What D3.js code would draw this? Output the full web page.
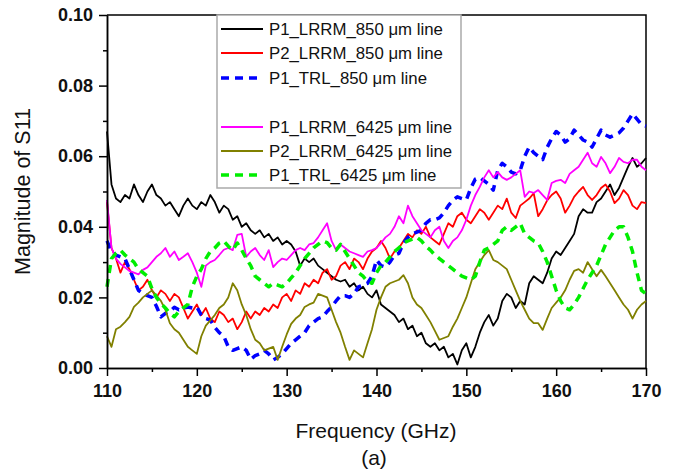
<!DOCTYPE html>
<html>
<head>
<meta charset="utf-8">
<script src="https://cdn.jsdelivr.net/npm/d3@7/dist/d3.min.js"></script>
<style>
  body { margin: 0; background: #fff; }
  svg { display: block; font-family: Arial, "Liberation Sans", sans-serif; }
</style>
</head>
<body>
<svg id="chart"></svg>
<script>
// x values are sampled every 0.5 GHz from 110 to 170
const freqStart = 110
const freqStep = 0.5
const xTicks = [110, 120, 130, 140, 150, 160, 170]
const xMinorTicks = [115, 125, 135, 145, 155, 165]
const yTicks = [0, 0.02, 0.04, 0.06, 0.08, 0.10]
const yMinorTicks = [0.01, 0.03, 0.05, 0.07, 0.09]

const legendNames = [
  "P1_LRRM_850 \u03bcm line", "P2_LRRM_850 \u03bcm line", "P1_TRL_850 \u03bcm line",
  "P1_LRRM_6425 \u03bcm line", "P2_LRRM_6425 \u03bcm line", "P1_TRL_6425 \u03bcm line"
]

const p1Lrrm850 = [
  0.067, 0.052, 0.048, 0.047, 0.049, 0.048, 0.052, 0.049, 0.047, 0.050,
  0.052, 0.049, 0.048, 0.046, 0.047, 0.045, 0.043, 0.046, 0.048, 0.046,
  0.045, 0.047, 0.046, 0.049, 0.047, 0.044, 0.046, 0.045, 0.042, 0.043,
  0.040, 0.041, 0.039, 0.038, 0.039, 0.037, 0.038, 0.036, 0.037, 0.035,
  0.036, 0.035, 0.033, 0.029, 0.031, 0.030, 0.031, 0.029, 0.028, 0.027,
  0.026, 0.025, 0.0245, 0.025, 0.023, 0.024, 0.022, 0.023, 0.021, 0.020,
  0.022, 0.018, 0.017, 0.016, 0.015, 0.013, 0.014, 0.011, 0.012, 0.009,
  0.010, 0.007, 0.006, 0.007, 0.005, 0.006, 0.003, 0.004, 0.001, 0.005,
  0.007, 0.003, 0.006, 0.010, 0.013, 0.015, 0.012, 0.014, 0.019, 0.021,
  0.020, 0.017, 0.019, 0.018, 0.024, 0.026, 0.025, 0.024, 0.027, 0.031,
  0.033, 0.032, 0.034, 0.036, 0.038, 0.043, 0.045, 0.044, 0.044, 0.047,
  0.048, 0.050, 0.052, 0.049, 0.051, 0.054, 0.057, 0.0595, 0.057, 0.058,
  0.0595
]
const p2Lrrm850 = [
  0.047, 0.034, 0.031, 0.027, 0.030, 0.028, 0.025, 0.022, 0.023, 0.025,
  0.022, 0.020, 0.022, 0.021, 0.019, 0.021, 0.020, 0.017, 0.014, 0.016,
  0.018, 0.015, 0.017, 0.014, 0.013, 0.016, 0.015, 0.013, 0.014, 0.011,
  0.013, 0.016, 0.014, 0.016, 0.015, 0.017, 0.016, 0.018, 0.017, 0.020,
  0.021, 0.019, 0.022, 0.021, 0.024, 0.023, 0.025, 0.024, 0.027, 0.028,
  0.025, 0.026, 0.029, 0.030, 0.028, 0.031, 0.030, 0.028, 0.031, 0.033,
  0.034, 0.036, 0.034, 0.031, 0.033, 0.034, 0.036, 0.038, 0.037, 0.039,
  0.038, 0.040, 0.037, 0.036, 0.035, 0.038, 0.041, 0.040, 0.043, 0.044,
  0.042, 0.041, 0.043, 0.045, 0.044, 0.042, 0.044, 0.046, 0.045, 0.048,
  0.044, 0.0425, 0.046, 0.047, 0.048, 0.0495, 0.043, 0.045, 0.0475, 0.049,
  0.050, 0.048, 0.044, 0.046, 0.0485, 0.050, 0.0513, 0.049, 0.0476, 0.049,
  0.051, 0.052, 0.050, 0.0467, 0.048, 0.0504, 0.049, 0.046, 0.045, 0.047,
  0.0467
]
const p1Trl850 = [
  0.036, 0.033, 0.032, 0.0315, 0.031, 0.028, 0.025, 0.022, 0.021, 0.0205,
  0.020, 0.0175, 0.0145, 0.0155, 0.016, 0.0172, 0.0165, 0.017, 0.0173, 0.017,
  0.0173, 0.015, 0.014, 0.0136, 0.0115, 0.010, 0.009, 0.006, 0.005, 0.0055,
  0.006, 0.005, 0.0025, 0.0035, 0.004, 0.005, 0.004, 0.0023, 0.003, 0.004,
  0.0055, 0.007, 0.008, 0.009, 0.010, 0.012, 0.013, 0.014, 0.0145, 0.016,
  0.0173, 0.019, 0.0205, 0.0205, 0.020, 0.021, 0.023, 0.0235, 0.024, 0.026,
  0.0306, 0.029, 0.0286, 0.030, 0.032, 0.0325, 0.0354, 0.037, 0.038, 0.0385,
  0.039, 0.041, 0.042, 0.042, 0.0425, 0.044, 0.046, 0.0475, 0.0485, 0.048,
  0.0476, 0.051, 0.0535, 0.054, 0.053, 0.052, 0.0504, 0.056, 0.058, 0.057,
  0.0555, 0.055, 0.056, 0.060, 0.0626, 0.061, 0.060, 0.059, 0.0625, 0.065,
  0.067, 0.066, 0.064, 0.065, 0.0674, 0.066, 0.0646, 0.064, 0.0626, 0.065,
  0.0674, 0.066, 0.0654, 0.066, 0.0666, 0.068, 0.070, 0.072, 0.0705, 0.069,
  0.0685
]
const p1Lrrm6425 = [
  0.0476, 0.034, 0.031, 0.0295, 0.0285, 0.0275, 0.027, 0.0265, 0.0278, 0.0285,
  0.030, 0.0315, 0.0325, 0.034, 0.0315, 0.033, 0.0306, 0.0315, 0.0325, 0.030,
  0.027, 0.023, 0.029, 0.030, 0.0306, 0.032, 0.0335, 0.034, 0.0334, 0.0377,
  0.038, 0.0315, 0.033, 0.034, 0.032, 0.0306, 0.0334, 0.0286, 0.030, 0.031,
  0.0306, 0.032, 0.0334, 0.034, 0.0334, 0.035, 0.0354, 0.037, 0.039, 0.041,
  0.036, 0.0334, 0.035, 0.034, 0.033, 0.0325, 0.032, 0.0315, 0.033, 0.0334,
  0.034, 0.0354, 0.037, 0.038, 0.040, 0.043, 0.041, 0.046, 0.043, 0.041,
  0.039, 0.038, 0.037, 0.039, 0.040, 0.036, 0.034, 0.036, 0.037, 0.039,
  0.042, 0.046, 0.049, 0.0513, 0.054, 0.056, 0.054, 0.0555, 0.054, 0.0533,
  0.054, 0.055, 0.056, 0.0485, 0.050, 0.0496, 0.0504, 0.049, 0.0476, 0.0524,
  0.053, 0.0533, 0.0524, 0.055, 0.056, 0.057, 0.059, 0.061, 0.058, 0.057,
  0.0598, 0.058, 0.0552, 0.057, 0.0595, 0.0584, 0.058, 0.059, 0.059, 0.057,
  0.056
]
const p2Lrrm6425 = [
  0.009, 0.006, 0.011, 0.0117, 0.013, 0.0145, 0.0173, 0.0185, 0.020, 0.021,
  0.022, 0.0205, 0.019, 0.0165, 0.0127, 0.011, 0.010, 0.008, 0.006, 0.005,
  0.004, 0.009, 0.012, 0.0135, 0.015, 0.017, 0.018, 0.020, 0.024, 0.022,
  0.018, 0.015, 0.011, 0.008, 0.007, 0.005, 0.0055, 0.006, 0.0023, 0.006,
  0.0095, 0.0125, 0.014, 0.015, 0.0173, 0.018, 0.0185, 0.021, 0.0205, 0.020,
  0.0165, 0.013, 0.010, 0.006, 0.0023, 0.005, 0.004, 0.003, 0.007, 0.011,
  0.0165, 0.020, 0.023, 0.024, 0.0245, 0.025, 0.0263, 0.024, 0.020, 0.018,
  0.017, 0.015, 0.013, 0.0105, 0.008, 0.0085, 0.009, 0.0117, 0.014, 0.017,
  0.020, 0.024, 0.028, 0.030, 0.032, 0.0334, 0.0306, 0.030, 0.029, 0.028,
  0.025, 0.022, 0.019, 0.0165, 0.014, 0.0127, 0.0127, 0.0108, 0.014, 0.017,
  0.0185, 0.020, 0.022, 0.025, 0.0275, 0.028, 0.027, 0.030, 0.028, 0.026,
  0.0278, 0.026, 0.024, 0.022, 0.020, 0.018, 0.0165, 0.014, 0.0165, 0.018,
  0.019
]
const p1Trl6425 = [
  0.023, 0.031, 0.0325, 0.0334, 0.032, 0.031, 0.030, 0.028, 0.027, 0.026,
  0.0225, 0.020, 0.0183, 0.017, 0.0155, 0.0145, 0.016, 0.017, 0.018, 0.023,
  0.026, 0.028, 0.031, 0.033, 0.034, 0.0354, 0.036, 0.0345, 0.0334, 0.0354,
  0.0334, 0.031, 0.029, 0.026, 0.025, 0.024, 0.023, 0.024, 0.0235, 0.023,
  0.024, 0.0255, 0.027, 0.029, 0.031, 0.0325, 0.034, 0.035, 0.036, 0.0355,
  0.034, 0.0334, 0.035, 0.033, 0.031, 0.029, 0.027, 0.026, 0.0245, 0.024,
  0.027, 0.029, 0.030, 0.0315, 0.033, 0.034, 0.0354, 0.036, 0.0365, 0.037,
  0.036, 0.0345, 0.0334, 0.032, 0.031, 0.030, 0.029, 0.028, 0.027, 0.026,
  0.0255, 0.025, 0.026, 0.030, 0.0334, 0.034, 0.035, 0.036, 0.039, 0.040,
  0.039, 0.040, 0.041, 0.038, 0.037, 0.036, 0.0354, 0.033, 0.030, 0.026,
  0.022, 0.019, 0.017, 0.0165, 0.018, 0.020, 0.0225, 0.025, 0.027, 0.029,
  0.032, 0.035, 0.037, 0.039, 0.040, 0.040, 0.037, 0.033, 0.027, 0.022,
  0.021
]

const seriesValues = [p1Lrrm850, p2Lrrm850, p1Trl850, p1Lrrm6425, p2Lrrm6425, p1Trl6425]
const seriesColors = ["#000000", "#ff0000", "#0000ff", "#ff00ff", "#808000", "#00ee00"]
const seriesDashed = [false, false, true, false, false, true]

const full_width = 680
const full_height = 472
const plotLeft = 107, plotRight = 646, plotTop = 15, plotBottom = 368

const svg = d3.select("#chart")
  .attr("width", full_width)
  .attr("height", full_height)

const x = d3.scaleLinear().domain([110, 170]).range([plotLeft, plotRight])
const y = d3.scaleLinear().domain([0, 0.10]).range([plotBottom, plotTop])

// frame on top and right
svg.append("path")
  .attr("d", `M${plotLeft},${plotTop}H${plotRight}V${plotBottom}`)
  .attr("fill", "none")
  .attr("stroke", "#000")
  .attr("stroke-width", 1.5)

// legend box (drawn under the data like the original)
const legend = svg.append("g")
legend.append("rect")
  .attr("x", 217).attr("y", plotTop)
  .attr("width", 244).attr("height", 173)
  .attr("fill", "#fff")
  .attr("stroke", "#aaa")
  .attr("stroke-width", 1.5)
const legendRows = [29, 53, 78, 127, 151, 175]
legendNames.forEach((name, i) => {
  legend.append("line")
    .attr("x1", 221).attr("x2", 263)
    .attr("y1", legendRows[i]).attr("y2", legendRows[i])
    .attr("stroke", seriesColors[i])
    .attr("stroke-width", seriesDashed[i] ? 3.5 : 1.8)
    .attr("stroke-dasharray", seriesDashed[i] ? "8,6" : null)
  legend.append("text")
    .attr("x", 269).attr("y", legendRows[i] + 6)
    .attr("font-size", "16.8px")
    .attr("fill", "#111")
    .text(name)
})

// data lines
const line = d3.line()
  .x((d, i) => x(freqStart + i * freqStep))
  .y(d => y(d))

svg.append("g")
  .selectAll("path")
  .data(seriesValues)
  .enter()
  .append("path")
  .attr("d", d => line(d))
  .attr("fill", "none")
  .attr("stroke", (d, i) => seriesColors[i])
  .attr("stroke-width", (d, i) => seriesDashed[i] ? 3.5 : 1.8)
  .attr("stroke-dasharray", (d, i) => seriesDashed[i] ? "8,6" : null)
  .attr("stroke-linejoin", "round")

// axes
function styleAxis(g) {
  g.selectAll("path, line").attr("stroke", "#000").attr("stroke-width", 1.5)
  g.selectAll("text")
    .attr("font-family", "Arial, 'Liberation Sans', sans-serif")
    .attr("font-size", "18px")
    .attr("font-weight", "bold")
    .attr("fill", "#111")
}

svg.append("g")
  .attr("transform", `translate(0, ${plotBottom})`)
  .call(d3.axisBottom(x).tickValues(xMinorTicks).tickSize(4).tickSizeOuter(0).tickFormat(""))
  .call(styleAxis)
svg.append("g")
  .attr("transform", `translate(0, ${plotBottom})`)
  .call(d3.axisBottom(x).tickValues(xTicks).tickSize(8).tickSizeOuter(0).tickPadding(8).tickFormat(d3.format("d")))
  .call(styleAxis)

svg.append("g")
  .attr("transform", `translate(${plotLeft}, 0)`)
  .call(d3.axisLeft(y).tickValues(yMinorTicks).tickSize(4).tickSizeOuter(0).tickFormat(""))
  .call(styleAxis)
svg.append("g")
  .attr("transform", `translate(${plotLeft}, 0)`)
  .call(d3.axisLeft(y).tickValues(yTicks).tickSize(8).tickSizeOuter(0).tickPadding(6).tickFormat(d3.format(".2f")))
  .call(styleAxis)

// axis titles
svg.append("text")
  .attr("x", 376)
  .attr("y", 438)
  .attr("text-anchor", "middle")
  .attr("font-size", "21px")
  .attr("fill", "#111")
  .text("Frequency (GHz)")
svg.append("text")
  .attr("x", 374)
  .attr("y", 465)
  .attr("text-anchor", "middle")
  .attr("font-size", "21px")
  .attr("fill", "#111")
  .text("(a)")
svg.append("text")
  .attr("transform", `translate(30, ${(plotTop + plotBottom) / 2}) rotate(-90)`)
  .attr("text-anchor", "middle")
  .attr("font-size", "21.5px")
  .attr("fill", "#111")
  .text("Magnitude of S11")
</script>
</body>
</html>
